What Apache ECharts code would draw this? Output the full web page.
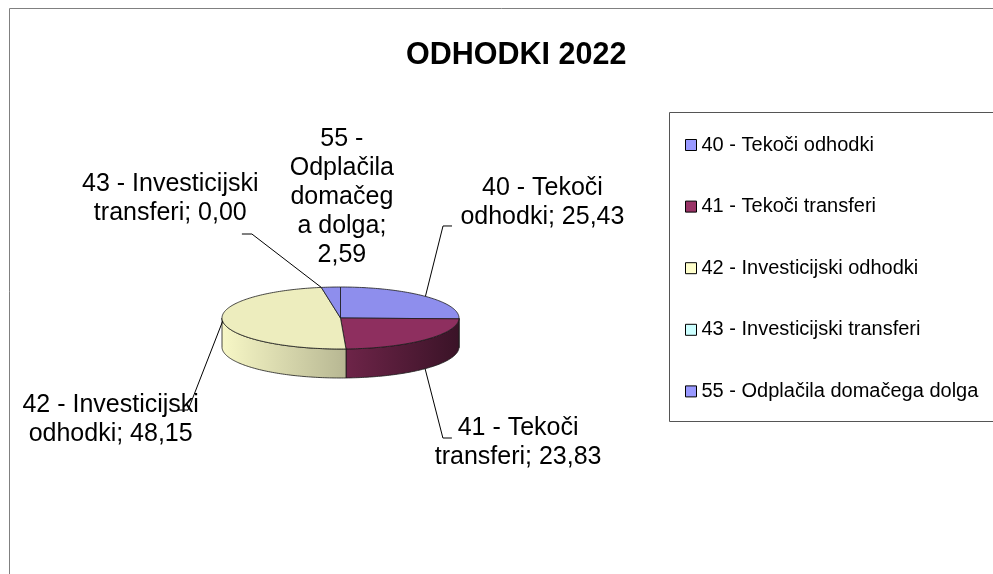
<!DOCTYPE html>
<html>
<head>
<meta charset="utf-8">
<title>ODHODKI 2022</title>
<script src="https://cdn.jsdelivr.net/npm/echarts@6/dist/echarts.min.js"></script>
<style>
html, body { margin: 0; padding: 0; background: #fff; }
#chart { width: 993px; height: 574px; }
</style>
</head>
<body>
<div id="chart"></div>
<script>
const chartTitle = 'ODHODKI 2022'
const categories = [
  '40 - Tekoči odhodki',
  '41 - Tekoči transferi',
  '42 - Investicijski odhodki',
  '43 - Investicijski transferi',
  '55 - Odplačila domačega dolga'
]
const values = [25.43, 23.83, 48.15, 0.00, 2.59]
const colors = ['#9999FF', '#993366', '#FFFFCC', '#CCFFFF', '#9999FF']

// 3d pie geometry in px (ellipse of the top face + wall height)
const pie = { cx: 340.5, cy: 318, rx: 118.5, ry: 31, depth: 29 }

// label placement, relative to the point on the rim at the slice's middle angle
// line: [elbow dx, elbow dy, tick length]; breaks: char positions where the label wraps
const labelLayout = [
  { dx: 117, dy: -94, breaks: [11], line: [17.6, -70.4, 9] },
  { dx: 93, dy: 73.6, breaks: [11], line: [17.8, 69.3, 9], onSide: true },
  { dx: -112, dy: 98, breaks: [18], line: [-34.6, 88.8, -11] },
  { dx: -151, dy: -88.6, breaks: [18], line: [-69.4, -53.4, -10] },
  { dx: 11, dy: -89.7, breaks: [4, 14, 22, 30] }
]

const FONT = "'Liberation Sans', Arial, Helvetica, sans-serif"

const total = values.reduce((a, b) => a + b, 0)
const starts = []
let acc = 0
values.forEach(v => { starts.push(acc); acc += v })

function toAngle (v) {
  return v / total * Math.PI * 2
}
function pt (a, dy) {
  return [pie.cx + pie.rx * Math.sin(a), pie.cy - pie.ry * Math.cos(a) + (dy || 0)]
}
function arc (a0, a1, dy) {
  const n = Math.max(2, Math.ceil(Math.abs(a1 - a0) / 0.02))
  const pts = []
  for (let i = 0; i <= n; i++) pts.push(pt(a0 + (a1 - a0) * i / n, dy))
  return pts
}
function shade (hex, k) {
  const n = parseInt(hex.slice(1), 16)
  const r = Math.round(((n >> 16) & 255) * k)
  const g = Math.round(((n >> 8) & 255) * k)
  const b = Math.round((n & 255) * k)
  return 'rgb(' + r + ',' + g + ',' + b + ')'
}
function fmt (v) {
  return v.toFixed(2).replace('.', ',')
}
function wrap (text, breaks) {
  const out = []
  let from = 0
  breaks.concat([text.length]).forEach(p => {
    out.push(text.slice(from, p).trim())
    from = p
  })
  return out.join('\n')
}

function renderSlice (params, api) {
  const i = params.seriesIndex
  const v = api.value(0)
  const a0 = toAngle(starts[i])
  const a1 = a0 + toAngle(v)
  const color = colors[i]
  const children = []

  // front wall (only the part facing the viewer)
  const s0 = Math.max(a0, Math.PI / 2)
  const s1 = Math.min(a1, Math.PI * 1.5)
  if (s1 > s0) {
    children.push({
      type: 'polygon',
      shape: { points: arc(s0, s1).concat(arc(s1, s0, pie.depth)) },
      style: {
        fill: new echarts.graphic.LinearGradient(pie.cx - pie.rx, 0, pie.cx + pie.rx, 0, [
          { offset: 0, color: shade(color, 0.97) },
          { offset: 0.5, color: shade(color, 0.73) },
          { offset: 1, color: shade(color, 0.38) }
        ], true),
        stroke: '#1a1a1a',
        lineWidth: 0.8
      }
    })
  }
  // top face
  if (a1 > a0) {
    children.push({
      type: 'polygon',
      shape: { points: [[pie.cx, pie.cy]].concat(arc(a0, a1)) },
      style: { fill: shade(color, 0.93), stroke: '#1a1a1a', lineWidth: 0.8 }
    })
  }

  // data label with leader line
  const lay = labelLayout[i]
  const anchor = pt((a0 + a1) / 2, lay.onSide ? pie.depth : 0)
  if (lay.line) {
    const elbow = [anchor[0] + lay.line[0], anchor[1] + lay.line[1]]
    children.push({
      type: 'polyline',
      shape: { points: [anchor, elbow, [elbow[0] + lay.line[2], elbow[1]]] },
      style: { stroke: '#000', lineWidth: 1, fill: null }
    })
  }
  children.push({
    type: 'text',
    x: anchor[0] + lay.dx,
    y: anchor[1] + lay.dy,
    style: {
      text: wrap(categories[i] + '; ' + fmt(v), lay.breaks),
      fontFamily: FONT,
      fontSize: 25,
      lineHeight: 29,
      align: 'center',
      verticalAlign: 'middle',
      fill: '#000'
    }
  })
  return { type: 'group', children }
}

const chart = echarts.init(document.getElementById('chart'))
chart.setOption({
  animation: false,
  backgroundColor: '#fff',
  title: {
    text: chartTitle,
    left: 406,
    top: 40,
    padding: 0,
    textStyle: { fontFamily: FONT, fontSize: 30.5, fontWeight: 'bold', color: '#000' }
  },
  legend: {
    orient: 'vertical',
    left: 685,
    top: 135,
    padding: 0,
    itemGap: 41.6,
    itemWidth: 11,
    itemHeight: 11,
    icon: 'rect',
    selectedMode: false,
    itemStyle: { borderColor: '#000', borderWidth: 1 },
    textStyle: { fontFamily: FONT, fontSize: 20, lineHeight: 20, color: '#000' },
    data: categories
  },
  graphic: [
    {
      type: 'rect',
      z: -1,
      shape: { x: 9.5, y: 8.5, width: 1200, height: 1000 },
      style: { fill: 'none', stroke: '#808080', lineWidth: 1 }
    },
    {
      type: 'rect',
      shape: { x: 669.5, y: 112.5, width: 500, height: 309 },
      style: { fill: 'none', stroke: '#555', lineWidth: 1 }
    }
  ],
  series: categories.map((name, i) => ({
    type: 'custom',
    name: name,
    coordinateSystem: 'none',
    itemStyle: { color: colors[i] },
    renderItem: renderSlice,
    data: [values[i]]
  }))
})
window.addEventListener('resize', function () {
  chart.resize()
})
</script>
</body>
</html>
